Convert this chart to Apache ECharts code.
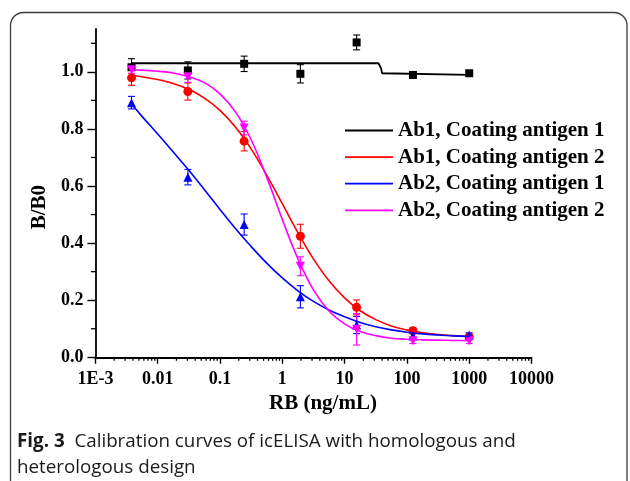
<!DOCTYPE html>
<html><head><meta charset="utf-8">
<script src="https://cdn.jsdelivr.net/npm/echarts@6/dist/echarts.min.js"></script>
<style>html,body{margin:0;padding:0;background:#fff}#c{width:630px;height:481px}</style>
</head><body><div id="c"></div>
<script>
// ---- data ----
const seriesNames = ['Ab1, Coating antigen 1', 'Ab1, Coating antigen 2', 'Ab2, Coating antigen 1', 'Ab2, Coating antigen 2'];
const concentrations = [0.0038, 0.0305, 0.244, 1.95, 15.6, 125, 1000];
const ab1ca1 = [1.016, 1.005, 1.028, 0.993, 1.103, 0.989, 0.995];
const ab1ca2 = [0.979, 0.931, 0.757, 0.424, 0.175, 0.093, 0.072];
const ab2ca1 = [0.892, 0.631, 0.465, 0.212, 0.113, 0.075, 0.078];
const ab2ca2 = [1.007, 0.983, 0.803, 0.319, 0.098, 0.058, 0.058];
const ab1ca1Err = [0.03, 0.03, 0.027, 0.032, 0.026, 0.006, 0.006];
const ab1ca2Err = [0.026, 0.03, 0.034, 0.042, 0.026, 0.01, 0.008];
const ab2ca1Err = [0.022, 0.027, 0.037, 0.039, 0.03, 0.01, 0.008];
const ab2ca2Err = [0.012, 0.02, 0.024, 0.033, 0.055, 0.01, 0.01];

// fitted curves
const ab1ca1CurveX = [0.0038, 35, 37, 38.5, 40, 42, 1000];
const ab1ca1Curve  = [1.030, 1.030, 1.028, 1.012, 0.995, 0.989, 0.989];
const curveX = [0.0038, 0.0056, 0.01, 0.0178, 0.0316, 0.0562, 0.1, 0.178, 0.316, 0.562, 1, 1.78, 3.16, 5.62, 10, 17.8, 31.6, 56.2, 100, 178, 316, 562, 1000];
const ab1ca2Curve = [0.987, 0.983, 0.973, 0.959, 0.939, 0.908, 0.865, 0.806, 0.730, 0.638, 0.538, 0.437, 0.345, 0.268, 0.208, 0.163, 0.132, 0.110, 0.096, 0.086, 0.080, 0.076, 0.073];
const ab2ca1Curve = [0.887, 0.844, 0.782, 0.719, 0.655, 0.587, 0.518, 0.450, 0.388, 0.330, 0.278, 0.233, 0.196, 0.166, 0.142, 0.122, 0.107, 0.096, 0.088, 0.082, 0.078, 0.075, 0.073];
const ab2ca2Curve = [1.007, 1.006, 1.002, 0.996, 0.983, 0.962, 0.923, 0.859, 0.762, 0.631, 0.483, 0.345, 0.236, 0.162, 0.117, 0.090, 0.076, 0.067, 0.063, 0.061, 0.060, 0.059, 0.058];

// axes ticks
const xTickValues = [0.001, 0.01, 0.1, 1, 10, 100, 1000, 10000];
const xTickLabels = ['1E-3', '0.01', '0.1', '1', '10', '100', '1000', '10000'];
const xMinorMultipliers = [2, 3, 4, 5, 6, 7, 8, 9];
const yTickValues = [0, 0.2, 0.4, 0.6, 0.8, 1.0];
const yTickLabels = ['0.0', '0.2', '0.4', '0.6', '0.8', '1.0'];
const yMinorValues = [0.1, 0.3, 0.5, 0.7, 0.9, 1.1];

const colors = ['#000000', '#ff0000', '#0000ff', '#ff00ff'];
const symbols = ['rect', 'circle', 'triangle', 'triangle'];
const symbolRot = [0, 0, 0, 180];
const symbolSizes = [8, 9, 9, 9];

const pts = [ab1ca1, ab1ca2, ab2ca1, ab2ca2];
const errs = [ab1ca1Err, ab1ca2Err, ab2ca1Err, ab2ca2Err];
const curves = [
  ab1ca1CurveX.map((x, i) => [x, ab1ca1Curve[i]]),
  curveX.map((x, i) => [x, ab1ca2Curve[i]]),
  curveX.map((x, i) => [x, ab2ca1Curve[i]]),
  curveX.map((x, i) => [x, ab2ca2Curve[i]])
];

const xMinor = [];
for (let d = 0.001; d < 5000; d *= 10) xMinorMultipliers.forEach(m => xMinor.push([+(m * d).toPrecision(3), 0]));

const serif = '"Liberation Serif", "Times New Roman", serif';
const series = [];
for (let k = 0; k < 4; k++) {
  const col = colors[k];
  series.push({
    name: 'err' + k, type: 'custom', silent: true, z: 3,
    data: concentrations.map((c, i) => [c, pts[k][i] - errs[k][i], pts[k][i] + errs[k][i]]),
    encode: { x: 0, y: [1, 2] },
    renderItem: function (params, api) {
      const x = api.value(0);
      const p1 = api.coord([x, api.value(2)]);
      const p2 = api.coord([x, api.value(1)]);
      const w = 3.5;
      const st = { stroke: col, lineWidth: 1.1 };
      return { type: 'group', children: [
        { type: 'line', shape: { x1: p1[0], y1: p1[1], x2: p2[0], y2: p2[1] }, style: st },
        { type: 'line', shape: { x1: p1[0] - w, y1: p1[1], x2: p1[0] + w, y2: p1[1] }, style: st },
        { type: 'line', shape: { x1: p2[0] - w, y1: p2[1], x2: p2[0] + w, y2: p2[1] }, style: st }
      ] };
    }
  });
  series.push({
    name: 'pts' + k, type: 'scatter', silent: true, z: 4,
    symbol: symbols[k], symbolRotate: symbolRot[k], symbolSize: symbolSizes[k],
    itemStyle: { color: col, opacity: 1 },
    data: concentrations.map((c, i) => [c, pts[k][i]])
  });
}
for (let k = 0; k < 4; k++) {
  series.push({
    name: seriesNames[k], type: 'line', symbol: 'none', silent: true, z: 5,
    smooth: k === 0 ? false : 0.4,
    lineStyle: { color: colors[k], width: k === 0 ? 1.8 : 1.6 },
    itemStyle: { color: colors[k] },
    data: curves[k]
  });
}
series.push({
  name: 'xminor', type: 'custom', silent: true, clip: false, z: 6,
  data: xMinor, encode: { x: 0, y: 1 },
  renderItem: function (params, api) {
    const p = api.coord([api.value(0), 0]);
    return { type: 'line', shape: { x1: p[0], y1: p[1], x2: p[0], y2: p[1] + 3.5 }, style: { stroke: '#000', lineWidth: 1.3 } };
  }
});
series.push({
  name: 'yminor', type: 'custom', silent: true, clip: false, z: 6,
  data: yMinorValues.map(v => [0.001, v]), encode: { x: 0, y: 1 },
  renderItem: function (params, api) {
    const p = api.coord([0.001, api.value(1)]);
    return { type: 'line', shape: { x1: p[0] - 4.5, y1: p[1], x2: p[0], y2: p[1] }, style: { stroke: '#000', lineWidth: 1.3 } };
  }
});

const chart = echarts.init(document.getElementById('c'), null, { renderer: 'canvas' });
chart.setOption({
  animation: false,
  backgroundColor: '#fff',
  grid: { left: 95.4, right: 98.5, top: 29, bottom: 123.7, containLabel: false },
  legend: {
    data: seriesNames.map(n => ({ name: n, icon: 'rect' })),
    orient: 'vertical', left: 345, top: 120, padding: 0,
    itemWidth: 48, itemHeight: 1.8, itemGap: 5.6,
    textStyle: { fontFamily: serif, fontWeight: 'bold', fontSize: 21, color: '#000' },
    selectedMode: false
  },
  xAxis: {
    type: 'log', logBase: 10, min: 0.001, max: 10000,
    name: 'RB (ng/mL)', nameLocation: 'middle', nameGap: 36,
    nameTextStyle: { fontFamily: serif, fontWeight: 'bold', fontSize: 21, color: '#000', padding: [0, 0, 0, 19] },
    axisLine: { onZero: false, lineStyle: { color: '#000', width: 1.8 } },
    axisTick: { inside: false, length: 6.5, lineStyle: { color: '#000', width: 1.4 } },
    axisLabel: {
      margin: 13, fontFamily: serif, fontWeight: 'bold', fontSize: 18, color: '#000',
      showMinLabel: true, showMaxLabel: true,
      formatter: function (v) { const i = xTickValues.findIndex(t => Math.abs(Math.log10(t) - Math.log10(v)) < 1e-6); return i >= 0 ? xTickLabels[i] : ''; }
    },
    splitLine: { show: false }, minorTick: { show: false }
  },
  yAxis: {
    type: 'value', min: 0, max: 1.15,
    name: 'B/B0', nameLocation: 'middle', nameGap: 45,
    nameTextStyle: { fontFamily: serif, fontWeight: 'bold', fontSize: 21, color: '#000', padding: [0, 28, 0, 0] },
    axisLine: { show: true, onZero: false, lineStyle: { color: '#000', width: 1.8 } },
    axisTick: { show: true, length: 8, customValues: yTickValues, lineStyle: { color: '#000', width: 1.4 } },
    axisLabel: {
      margin: 12, fontFamily: serif, fontWeight: 'bold', fontSize: 18, color: '#000',
      customValues: yTickValues,
      formatter: function (v) { const i = yTickValues.findIndex(t => Math.abs(t - v) < 1e-6); return i >= 0 ? yTickLabels[i] : ''; }
    },
    splitLine: { show: false }
  },
  graphic: [
    { type: 'rect', z: -1, shape: { x: 10.5, y: 12.5, width: 616.5, height: 530, r: 13 }, style: { fill: 'none', stroke: '#3c3c3c', lineWidth: 1.3 } },
    { type: 'text', left: 17, top: 432, style: {
      text: '{b|Fig. 3}  Calibration curves of icELISA with homologous and',
      font: '18.8px "Open Sans"', fill: '#1a1a1a',
      rich: { b: { fontFamily: '"Open Sans"', fontWeight: 'bold', fontSize: 18.8, fill: '#1a1a1a' } } } },
    { type: 'text', left: 17, top: 458, style: { text: 'heterologous design', font: '18.8px "Open Sans"', fill: '#1a1a1a' } }
  ],
  series: series
});
</script>
</body></html>
